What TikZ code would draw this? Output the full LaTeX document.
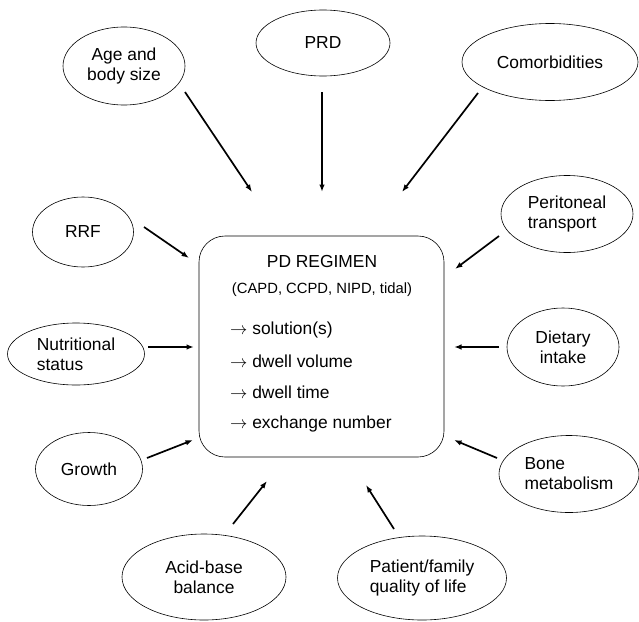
\documentclass[tikz,border=0pt]{standalone}
\usepackage{fontspec}
\setmainfont{Liberation Sans}
\usetikzlibrary{shapes.geometric,arrows.meta}

\begin{document}
\begin{tikzpicture}[x=1pt, y=-1pt,
  factor/.style={draw, ellipse, line width=0.6pt, inner sep=0pt, font=\fontsize{17.4}{20}\selectfont},
  arr/.style={line width=1.7pt, -{Latex[length=7.5pt,width=5.5pt]}},
  txt/.style={inner sep=0pt, font=\fontsize{17.4}{20}\selectfont}]
\useasboundingbox (0,0) rectangle (639,621);
% central regimen box
\node[draw, rounded corners=26pt, line width=0.6pt, minimum width=245pt, minimum height=221pt] (regimen) at (321.5,346.5) {};
\node[txt] (title) at (322,262) {PD REGIMEN};
\node[txt, font=\fontsize{14.8}{17}\selectfont] (modes) at (322,290) {(CAPD, CCPD, NIPD, tidal)};
\node[txt, anchor=west] (sol) at (230,330) {$\rightarrow$\ solution(s)};
\node[txt, anchor=west] (vol) at (230,361) {$\rightarrow$\ dwell volume};
\node[txt, anchor=west] (time) at (230,392) {$\rightarrow$\ dwell time};
\node[txt, anchor=west] (exch) at (230,424) {$\rightarrow$\ exchange number};
% surrounding factors
\node[factor, minimum width=122pt, minimum height=78pt, align=center] (age) at (124,66) {Age and\\body size};
\node[factor, minimum width=134pt, minimum height=66pt] (prd) at (323,43) {PRD};
\node[factor, minimum width=176pt, minimum height=77pt] (comorb) at (550,62) {Comorbidities};
\node[factor, minimum width=101pt, minimum height=70pt] (rrf) at (83,232) {RRF};
\node[factor, minimum width=132pt, minimum height=77pt, align=left] (perit) at (567,214) {Peritoneal\\transport};
\node[factor, minimum width=137pt, minimum height=62pt, align=left] (nutr) at (76,354) {Nutritional\\status};
\node[factor, minimum width=112pt, minimum height=78pt, align=center] (diet) at (563,347) {Dietary\\intake};
\node[factor, minimum width=107pt, minimum height=73pt] (growth) at (89,469) {Growth};
\node[factor, minimum width=140pt, minimum height=77pt, align=left] (bone) at (569,474) {Bone\\metabolism};
\node[factor, minimum width=164pt, minimum height=86pt, align=center] (acid) at (204,577) {Acid-base\\balance};
\node[factor, minimum width=169pt, minimum height=84pt, align=left] (qol) at (422,578) {Patient/family\\quality of life};
% arrow ends
\coordinate (age-s) at (185,92);    \coordinate (age-e) at (252,192);
\coordinate (prd-s) at (322,92);    \coordinate (prd-e) at (322,192);
\coordinate (comorb-s) at (478,93); \coordinate (comorb-e) at (402,192);
\coordinate (rrf-s) at (144,227);   \coordinate (rrf-e) at (189,258);
\coordinate (perit-s) at (499,236); \coordinate (perit-e) at (455,269);
\coordinate (nutr-s) at (148,347);  \coordinate (nutr-e) at (194,347);
\coordinate (diet-s) at (499,347);  \coordinate (diet-e) at (454,347);
\coordinate (growth-s) at (147,458); \coordinate (growth-e) at (193,440);
\coordinate (bone-s) at (497,458);  \coordinate (bone-e) at (454,440);
\coordinate (acid-s) at (233,524);  \coordinate (acid-e) at (267,481);
\coordinate (qol-s) at (394,529);   \coordinate (qol-e) at (366,485);
\draw[arr] (age-s) -- (age-e);
\draw[arr] (prd-s) -- (prd-e);
\draw[arr] (comorb-s) -- (comorb-e);
\draw[arr] (rrf-s) -- (rrf-e);
\draw[arr] (perit-s) -- (perit-e);
\draw[arr] (nutr-s) -- (nutr-e);
\draw[arr] (diet-s) -- (diet-e);
\draw[arr] (growth-s) -- (growth-e);
\draw[arr] (bone-s) -- (bone-e);
\draw[arr] (acid-s) -- (acid-e);
\draw[arr] (qol-s) -- (qol-e);
\end{tikzpicture}
\end{document}
